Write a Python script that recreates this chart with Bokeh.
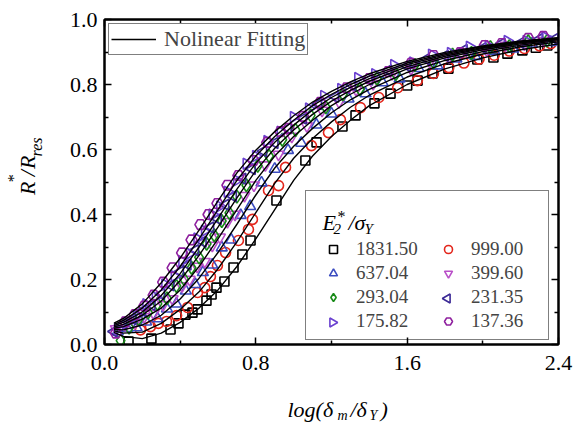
from math import pi
from bokeh.plotting import figure
from bokeh.layouts import column, row
from bokeh.models import (Range1d, LinearAxis, FixedTicker, PrintfTickFormatter,
                          CustomJSTickFormatter, Legend, LegendItem, Label)
from bokeh.core.properties import value
from bokeh.embed import file_html
from bokeh.resources import INLINE

# ---------------- data ----------------
fit_x = [0.05, 0.1, 0.2, 0.3, 0.4, 0.5, 0.6, 0.7, 0.8, 0.9, 1.0, 1.1, 1.2, 1.3, 1.4, 1.6, 1.8, 2.0, 2.2, 2.4]

fit_1831 = [0.037, 0.025, 0.018, 0.035, 0.068, 0.112, 0.168, 0.240, 0.325, 0.415, 0.505, 0.580, 0.640, 0.690, 0.735, 0.800, 0.848, 0.882, 0.907, 0.925]
fit_999 = [0.042, 0.035, 0.038, 0.065, 0.108, 0.162, 0.233, 0.316, 0.406, 0.496, 0.573, 0.634, 0.685, 0.730, 0.767, 0.823, 0.864, 0.894, 0.916, 0.931]
fit_637 = [0.046, 0.045, 0.060, 0.090, 0.140, 0.204, 0.283, 0.370, 0.460, 0.543, 0.610, 0.665, 0.713, 0.753, 0.785, 0.837, 0.874, 0.901, 0.921, 0.935]
fit_399 = [0.050, 0.055, 0.078, 0.112, 0.168, 0.240, 0.325, 0.415, 0.505, 0.580, 0.640, 0.690, 0.735, 0.770, 0.800, 0.848, 0.882, 0.907, 0.925, 0.938]
fit_293 = [0.054, 0.062, 0.090, 0.134, 0.197, 0.274, 0.361, 0.451, 0.535, 0.604, 0.660, 0.708, 0.749, 0.782, 0.810, 0.855, 0.887, 0.911, 0.928, 0.940]
fit_231 = [0.058, 0.068, 0.100, 0.151, 0.218, 0.300, 0.388, 0.478, 0.558, 0.622, 0.675, 0.722, 0.760, 0.791, 0.818, 0.861, 0.891, 0.914, 0.930, 0.942]
fit_175 = [0.062, 0.074, 0.112, 0.168, 0.240, 0.325, 0.415, 0.505, 0.580, 0.640, 0.690, 0.735, 0.770, 0.800, 0.826, 0.866, 0.895, 0.917, 0.932, 0.943]
fit_137 = [0.066, 0.080, 0.125, 0.190, 0.266, 0.352, 0.442, 0.528, 0.598, 0.655, 0.704, 0.746, 0.779, 0.808, 0.833, 0.871, 0.899, 0.919, 0.934, 0.944]

x_1831 = [0.127, 0.248, 0.349, 0.391, 0.428, 0.465, 0.492, 0.539, 0.566, 0.592, 0.634, 0.682, 0.729, 0.772, 0.909, 1.062, 1.121, 1.258, 1.327, 1.427, 1.512, 1.600, 1.655, 1.734, 1.818, 1.971, 2.056, 2.130, 2.209, 2.280, 2.341]
y_1831 = [0.009, 0.018, 0.046, 0.065, 0.092, 0.098, 0.108, 0.135, 0.154, 0.175, 0.194, 0.237, 0.277, 0.320, 0.443, 0.566, 0.622, 0.671, 0.705, 0.742, 0.772, 0.797, 0.812, 0.834, 0.849, 0.877, 0.883, 0.895, 0.905, 0.913, 0.920]

x_999 = [0.190, 0.243, 0.285, 0.328, 0.381, 0.439, 0.492, 0.530, 0.560, 0.597, 0.640, 0.708, 0.761, 0.782, 0.867, 0.920, 0.957, 1.094, 1.184, 1.247, 1.353, 1.450, 1.550, 1.654, 1.739, 1.820, 1.900, 1.980, 2.060, 2.140, 2.220, 2.300, 2.360]
y_999 = [0.045, 0.055, 0.065, 0.071, 0.089, 0.114, 0.160, 0.175, 0.209, 0.243, 0.283, 0.320, 0.354, 0.385, 0.474, 0.489, 0.545, 0.612, 0.652, 0.692, 0.729, 0.760, 0.790, 0.812, 0.834, 0.852, 0.866, 0.878, 0.890, 0.903, 0.911, 0.919, 0.926]

x_637 = [0.07, 0.12, 0.17, 0.22, 0.28, 0.33, 0.38, 0.43, 0.48, 0.52, 0.57, 0.62, 0.67, 0.72, 0.77, 0.83, 0.90, 0.97, 1.04, 1.12, 1.20, 1.29, 1.38, 1.47, 1.56, 1.66, 1.76, 1.86, 1.96, 2.06, 2.16, 2.26, 2.36]
y_637 = [0.040, 0.050, 0.052, 0.070, 0.080, 0.110, 0.125, 0.165, 0.185, 0.222, 0.245, 0.298, 0.322, 0.398, 0.425, 0.498, 0.540, 0.598, 0.620, 0.676, 0.710, 0.756, 0.772, 0.806, 0.818, 0.850, 0.858, 0.879, 0.887, 0.903, 0.910, 0.925, 0.930]

x_399 = [0.06, 0.11, 0.16, 0.21, 0.26, 0.31, 0.36, 0.41, 0.45, 0.49, 0.53, 0.57, 0.61, 0.65, 0.69, 0.74, 0.79, 0.85, 0.92, 0.99, 1.07, 1.15, 1.24, 1.33, 1.42, 1.52, 1.62, 1.72, 1.82, 1.92, 2.02, 2.12, 2.22, 2.32]
y_399 = [0.048, 0.060, 0.066, 0.085, 0.095, 0.122, 0.140, 0.180, 0.200, 0.240, 0.255, 0.305, 0.330, 0.378, 0.400, 0.458, 0.490, 0.552, 0.585, 0.640, 0.672, 0.720, 0.746, 0.784, 0.802, 0.833, 0.848, 0.870, 0.883, 0.899, 0.906, 0.920, 0.924, 0.935]

x_293 = [0.085, 0.13, 0.18, 0.23, 0.28, 0.33, 0.38, 0.42, 0.46, 0.50, 0.54, 0.58, 0.62, 0.66, 0.70, 0.75, 0.81, 0.87, 0.94, 1.01, 1.09, 1.17, 1.26, 1.35, 1.44, 1.54, 1.64, 1.74, 1.84, 1.94, 2.04, 2.14, 2.24, 2.34]
y_293 = [0.012, 0.052, 0.078, 0.098, 0.125, 0.142, 0.180, 0.202, 0.236, 0.268, 0.310, 0.336, 0.380, 0.405, 0.455, 0.490, 0.550, 0.580, 0.630, 0.660, 0.705, 0.730, 0.770, 0.786, 0.818, 0.832, 0.860, 0.868, 0.892, 0.897, 0.915, 0.918, 0.933, 0.935]

x_231 = [0.05, 0.10, 0.15, 0.20, 0.25, 0.30, 0.35, 0.40, 0.44, 0.48, 0.52, 0.56, 0.60, 0.64, 0.68, 0.73, 0.78, 0.84, 0.90, 0.97, 1.05, 1.13, 1.22, 1.31, 1.40, 1.50, 1.60, 1.70, 1.80, 1.90, 2.00, 2.10, 2.20, 2.30, 2.38]
y_231 = [0.040, 0.062, 0.078, 0.104, 0.122, 0.155, 0.182, 0.224, 0.246, 0.290, 0.316, 0.360, 0.386, 0.430, 0.456, 0.510, 0.540, 0.595, 0.620, 0.665, 0.695, 0.740, 0.762, 0.798, 0.815, 0.843, 0.857, 0.878, 0.888, 0.906, 0.912, 0.926, 0.928, 0.940, 0.940]

x_175 = [0.07, 0.12, 0.17, 0.22, 0.27, 0.32, 0.37, 0.41, 0.45, 0.49, 0.53, 0.57, 0.61, 0.65, 0.70, 0.75, 0.80, 0.86, 0.93, 1.00, 1.08, 1.16, 1.25, 1.34, 1.43, 1.53, 1.63, 1.73, 1.83, 1.93, 2.03, 2.13, 2.23, 2.33]
y_175 = [0.048, 0.068, 0.088, 0.124, 0.146, 0.185, 0.210, 0.256, 0.280, 0.326, 0.350, 0.400, 0.425, 0.470, 0.505, 0.556, 0.580, 0.626, 0.655, 0.700, 0.726, 0.765, 0.786, 0.820, 0.832, 0.860, 0.868, 0.892, 0.897, 0.916, 0.919, 0.934, 0.934, 0.946]

x_137 = [0.06, 0.11, 0.16, 0.21, 0.26, 0.31, 0.36, 0.41, 0.46, 0.507, 0.55, 0.597, 0.65, 0.708, 0.788, 0.86, 0.93, 0.973, 1.05, 1.14, 1.28, 1.40, 1.50, 1.62, 1.74, 1.88, 2.01, 2.10, 2.24, 2.32]
y_137 = [0.035, 0.070, 0.092, 0.118, 0.152, 0.192, 0.236, 0.282, 0.322, 0.369, 0.400, 0.434, 0.490, 0.520, 0.566, 0.622, 0.655, 0.665, 0.702, 0.745, 0.790, 0.818, 0.840, 0.865, 0.889, 0.898, 0.920, 0.926, 0.942, 0.948]

series_labels = ["1831.50", "999.00", "637.04", "399.60", "293.04", "231.35", "175.82", "137.36"]
x_ticks = [0.0, 0.8, 1.6, 2.4]
x_minor = [0.4, 1.2, 2.0]
y_ticks = [0.0, 0.2, 0.4, 0.6, 0.8, 1.0]
y_minor = [0.1, 0.3, 0.5, 0.7, 0.9]

# ---------------- layout geometry (canvas pixels) ----------------
TOTAL_W, TOTAL_H = 580, 422
YLAB_W = 50                      # strip holding the rotated y title
TOP_H = 385                      # height of the row with the main plot
MAIN_W = TOTAL_W - YLAB_W
L, R, T = 104, 22, 19            # frame edges measured on the whole canvas
FW, FH = TOTAL_W - L - R, 325
XMIN, XMAX, YMIN, YMAX = 0.0, 2.4, 0.0, 1.0
FONT = "Liberation Serif"


def dx(px):  # canvas pixel -> main data x (annotation placement)
    return XMIN + (px - L) / FW * (XMAX - XMIN)


def dy(py):  # canvas pixel -> main data y
    return YMIN + (T + FH - py) / FH * (YMAX - YMIN)


styles = [
    dict(marker="square", color="#000000", size=9, angle=0.0),
    dict(marker="circle", color="#e3261c", size=10, angle=0.0),
    dict(marker="triangle", color="#3b4cc0", size=11, angle=0.0),
    dict(marker="inverted_triangle", color="#b94fc8", size=11, angle=0.0),
    dict(marker="diamond", color="#178a17", size=13, angle=0.0),
    dict(marker="triangle", color="#3c2a96", size=11, angle=pi / 2),
    dict(marker="triangle", color="#6a41d0", size=11, angle=-pi / 2),
    dict(marker="hex", color="#8e1f9e", size=11, angle=0.0),
]
pts = [(x_1831, y_1831), (x_999, y_999), (x_637, y_637), (x_399, y_399),
       (x_293, y_293), (x_231, y_231), (x_175, y_175), (x_137, y_137)]
fits = [fit_1831, fit_999, fit_637, fit_399, fit_293, fit_231, fit_175, fit_137]

p = figure(width=MAIN_W, height=TOP_H, x_range=Range1d(XMIN, XMAX), y_range=Range1d(YMIN, YMAX),
           output_backend="svg", toolbar_location=None,
           min_border_left=L - YLAB_W, min_border_right=R, min_border_top=T,
           min_border_bottom=TOP_H - T - FH,
           x_axis_type=None, y_axis_type=None)
p.outline_line_color = "black"
p.outline_line_width = 2
p.background_fill_color = "white"
p.border_fill_color = "white"


def style_axis(ax, labels=True):
    ax.major_tick_in = 7
    ax.major_tick_out = 0
    ax.minor_tick_in = 4
    ax.minor_tick_out = 0
    ax.major_tick_line_width = 1.5
    ax.minor_tick_line_width = 1.5
    ax.axis_line_width = 2
    ax.major_label_text_font = FONT
    if labels:
        ax.major_label_text_font_size = "22px"
        ax.major_label_text_color = "black"
        ax.formatter = PrintfTickFormatter(format="%.1f")
    else:
        ax.major_label_text_font_size = "1px"
        ax.major_label_standoff = 0
        ax.formatter = CustomJSTickFormatter(code="return ''")


xb = LinearAxis(ticker=FixedTicker(ticks=x_ticks, minor_ticks=x_minor))
style_axis(xb)
xb.major_label_standoff = 11
p.add_layout(xb, "below")
xt = LinearAxis(ticker=FixedTicker(ticks=x_ticks, minor_ticks=x_minor))
style_axis(xt, labels=False)
p.add_layout(xt, "above")
yl = LinearAxis(ticker=FixedTicker(ticks=y_ticks, minor_ticks=y_minor))
style_axis(yl)
yl.major_label_standoff = 7
p.add_layout(yl, "left")
yr = LinearAxis(ticker=FixedTicker(ticks=y_ticks, minor_ticks=y_minor))
style_axis(yr, labels=False)
p.add_layout(yr, "right")

# data points
scatter_r = []
for (xs, ys), st in zip(pts, styles):
    r = p.scatter(xs, ys, marker=st["marker"], size=st["size"], angle=st["angle"],
                  fill_color=None, line_color=st["color"], line_width=1.6)
    scatter_r.append(r)

# fitted curves
fit_r = []
for fy in fits:
    fit_r.append(p.line(fit_x, fy, line_color="black", line_width=1.4))

# legend for fit
leg1 = Legend(items=[LegendItem(label="Nolinear Fitting", renderers=[fit_r[0]])],
              location="top_left", margin=4, padding=2, glyph_width=45, glyph_height=18,
              label_height=18, label_standoff=8, label_text_font=FONT,
              label_text_font_size="22px", border_line_color="black", border_line_width=1.5,
              background_fill_alpha=1.0)
p.add_layout(leg1)

# Bokeh legends draw markers unrotated, so the two sideways triangles get a
# blank legend glyph and their key is drawn (rotated) underneath the
# transparent legend box.
blank_key = p.scatter([], [], marker="triangle", size=9, fill_alpha=0, line_alpha=0)
legend_r = list(scatter_r)
legend_r[5] = blank_key
legend_r[6] = blank_key
KEY_COL_X = [332, 447]           # legend key centres (canvas px)
KEY_ROW_Y = [250, 274, 298, 322]
p.scatter([dx(KEY_COL_X[1]), dx(KEY_COL_X[0])], [dy(KEY_ROW_Y[2]), dy(KEY_ROW_Y[3])],
          marker="triangle", size=9, angle=[pi / 2, -pi / 2], fill_color=None,
          line_color=[styles[5]["color"], styles[6]["color"]], line_width=1.6)

order = [0, 2, 4, 6, 1, 3, 5, 7]
items = [LegendItem(label=series_labels[i], renderers=[legend_r[i]]) for i in order]
leg2 = Legend(items=items, location=(201, 4), ncols=2, padding=7, spacing=2,
              glyph_width=40, glyph_height=20, label_height=20, label_width=70,
              label_standoff=3, label_text_font=FONT, label_text_font_size="19px",
              title=" ", title_text_font=FONT, title_text_font_size="22px", title_standoff=14,
              border_line_color="black", border_line_width=1.5, background_fill_alpha=0.0)
p.add_layout(leg2)


def lab(text, px, py, size, italic=True):
    p.add_layout(Label(x=dx(px), y=dy(py), x_units="data", y_units="data", text=text,
                       text_font=FONT, text_font_size=size,
                       text_font_style="italic" if italic else "normal",
                       text_color="black", text_align="left", text_baseline="alphabetic"))


# legend title  E2*/σY
lab("E", 322, 222, "22px")
lab("2", 333, 228, "15px")
lab("*", 337, 216, "16px", italic=False)
lab("/σ", 348, 222, "22px")
lab("Y", 364, 228, "15px")

# ---------------- y title strip ----------------
py_fig = figure(width=YLAB_W, height=TOP_H, x_range=Range1d(0, YLAB_W), y_range=Range1d(0, TOP_H),
                output_backend="svg", toolbar_location=None, min_border=0,
                x_axis_type=None, y_axis_type=None)
py_fig.outline_line_color = None
py_fig.grid.visible = False


def ytxt(text, cx, cy, size, italic=True):
    # (cx, cy): centre of the rotated piece, canvas px
    py_fig.text(x=[cx], y=[TOP_H - cy], text=[text], angle=pi / 2,
                text_font=value(FONT), text_font_size=value(size),
                text_font_style="italic" if italic else "normal",
                text_color="black", text_align="center", text_baseline="middle")


ytxt("R", 27, 200, "22px")
ytxt("*", 13, 188, "16px", italic=False)
ytxt("/", 27, 182, "22px")
ytxt("R", 27, 169, "22px")
ytxt("res", 36, 151, "16px")

# ---------------- x title strip ----------------
XLAB_H = TOTAL_H - TOP_H
px_fig = figure(width=TOTAL_W, height=XLAB_H, x_range=Range1d(0, TOTAL_W), y_range=Range1d(0, XLAB_H),
                output_backend="svg", toolbar_location=None, min_border=0,
                x_axis_type=None, y_axis_type=None)
px_fig.outline_line_color = None
px_fig.grid.visible = False


def xtxt(text, px, py, size, italic=True):
    px_fig.text(x=[px], y=[TOTAL_H - py], text=[text],
                text_font=value(FONT), text_font_size=value(size),
                text_font_style="italic" if italic else "normal",
                text_color="black", text_align="left", text_baseline="alphabetic")


xtxt("log(δ", 287, 409, "22px")
xtxt("m", 337, 415, "14px")
xtxt("/δ", 350, 409, "22px")
xtxt("Y", 369, 415, "14px")
xtxt(")", 380, 409, "22px")

layout = column(row(py_fig, p, spacing=0), px_fig, spacing=0)
open("out.html", "w").write(file_html(layout, INLINE))
